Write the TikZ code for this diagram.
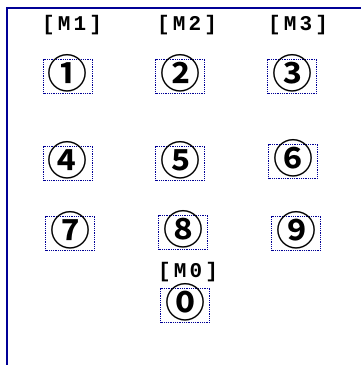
\documentclass[tikz,border=0pt]{standalone}
\usepackage{fontspec}
\usepackage{xcolor}
\newfontfamily\symfont{Noto Sans CJK JP Bold}
\newfontfamily\keyfont[LetterSpace=15]{Liberation Mono Bold}
\definecolor{framecol}{RGB}{0,0,150}

\begin{document}
\begin{tikzpicture}[x=1pt, y=-1pt,
  every node/.style={inner sep=0pt},
  keybox/.style={draw=framecol, densely dotted, line width=0.8pt, minimum width=49pt, minimum height=34pt, text height=27pt, text depth=3pt, font=\symfont\fontsize{40}{40}\selectfont},
  keylabel/.style={font=\keyfont\fontsize{21}{21}\selectfont}]
  \useasboundingbox (0,0) rectangle (361,365);
  % frame
  \coordinate (topright) at (361,8);
  \coordinate (corner) at (7,8);
  \coordinate (bottomleft) at (7,365);
  \draw[framecol, line width=2.4pt] (topright) -- (corner) -- (bottomleft);
  % column labels
  \node[keylabel] (m1) at (72,25) {[M1]};
  \node[keylabel] (m2) at (187,25) {[M2]};
  \node[keylabel] (m3) at (298,25) {[M3]};
  % first row
  \node[keybox] (k1) at (68,76) {①};
  \node[keybox] (k2) at (180,76) {②};
  \node[keybox] (k3) at (292,76) {③};
  % second row
  \node[keybox] (k4) at (68,163) {④};
  \node[keybox] (k5) at (180,163) {⑤};
  \node[keybox] (k6) at (293,161) {⑥};
  % third row
  \node[keybox] (k7) at (70,233) {⑦};
  \node[keybox] (k8) at (183,232) {⑧};
  \node[keybox] (k9) at (296,233) {⑨};
  % zero
  \node[keylabel] (m0) at (188,272) {[M0]};
  \node[keybox] (k0) at (185,305) {⓪};
\end{tikzpicture}
\end{document}
